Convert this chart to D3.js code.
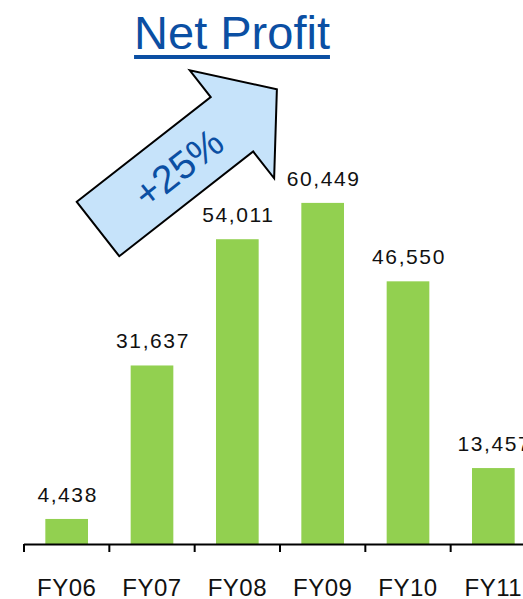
<!DOCTYPE html>
<html>
<head>
<meta charset="utf-8">
<script src="https://cdn.jsdelivr.net/npm/d3@7"></script>
<style>
  html, body { margin: 0; padding: 0; background: #fff; overflow: hidden; }
  text { font-family: "Liberation Sans", Arial, sans-serif; }
</style>
</head>
<body>
<script>
// 数据
const years = ["FY06", "FY07", "FY08", "FY09", "FY10", "FY11"];
const netProfit = [4438, 31637, 54011, 60449, 46550, 13457];
const titleText = "Net Profit";
const growthText = "+25%";

let width = 523;
let height = 599;
let svg = d3.select("body").append("svg")
    .attr("width", width).attr("height", height);

let blue = "#0B4FA3";
let green = "#92D050";

// 比例尺
let xScale = d3.scaleBand()
    .domain(years)
    .range([24, 536])
    .paddingInner(0.5)
    .paddingOuter(0.25);

let yScale = d3.scaleLinear()
    .domain([0, 70000])
    .range([544, 149]);

let fmt = d3.format(",");

// 柱图
svg.append("g").selectAll("rect")
    .data(netProfit)
    .join("rect")
    .attr("x", (d, i) => xScale(years[i]))
    .attr("y", d => yScale(d))
    .attr("width", xScale.bandwidth())
    .attr("height", d => yScale(0) - yScale(d))
    .attr("fill", green);

// 数值标签
svg.append("g").selectAll("text")
    .data(netProfit)
    .join("text")
    .attr("x", (d, i) => xScale(years[i]) + xScale.bandwidth() / 2 + 1)
    .attr("y", d => yScale(d) - 17)
    .attr("text-anchor", "middle")
    .attr("font-size", 21)
    .attr("letter-spacing", "1.6px")
    .attr("fill", "#111")
    .text(d => fmt(d));

// x轴 (刻度在分类边界)
let step = xScale.step();
let x0 = xScale.range()[0];
let axis = svg.append("g").attr("class", "x-axis");
axis.append("line")
    .attr("x1", x0).attr("x2", width)
    .attr("y1", 544.5).attr("y2", 544.5)
    .attr("stroke", "#000").attr("stroke-width", 2);
axis.selectAll(".tick")
    .data(d3.range(years.length))
    .join("line")
    .attr("class", "tick")
    .attr("x1", i => x0 + i * step).attr("x2", i => x0 + i * step)
    .attr("y1", 544).attr("y2", 552)
    .attr("stroke", "#000").attr("stroke-width", 2);
axis.selectAll(".lbl")
    .data(years)
    .join("text")
    .attr("class", "lbl")
    .attr("x", d => xScale(d) + xScale.bandwidth() / 2)
    .attr("y", 596)
    .attr("text-anchor", "middle")
    .attr("font-size", 24)
    .attr("letter-spacing", "0.5px")
    .attr("fill", "#111")
    .text(d => d);

// 标题
let title = svg.append("text")
    .attr("x", 232)
    .attr("y", 49)
    .attr("text-anchor", "middle")
    .attr("font-size", 47)
    .attr("fill", blue)
    .text(titleText);
let tb = title.node().getBBox();
svg.append("rect")
    .attr("x", tb.x).attr("y", 55)
    .attr("width", tb.width).attr("height", 4)
    .attr("fill", blue);

// 箭头 (局部坐标: 沿方向 u, 垂直 v)
let shaftLen = 170, shaftHalf = 34.5, headHalf = 68.5, totalLen = 227;
let arrowPts = [
    [0, -shaftHalf], [shaftLen, -shaftHalf], [shaftLen, -headHalf],
    [totalLen, 0],
    [shaftLen, headHalf], [shaftLen, shaftHalf], [0, shaftHalf]
];
let gArrow = svg.append("g")
    .attr("transform", "translate(98,229) rotate(-38)");
gArrow.append("path")
    .attr("d", d3.line()(arrowPts) + "Z")
    .attr("fill", "#C6E3FA")
    .attr("stroke", "#000")
    .attr("stroke-width", 2)
    .attr("stroke-linejoin", "miter");
gArrow.append("text")
    .attr("x", 101)
    .attr("y", 1)
    .attr("dy", "0.36em")
    .attr("text-anchor", "middle")
    .attr("font-size", 39)
    .attr("fill", blue)
    .text(growthText);
</script>
</body>
</html>
